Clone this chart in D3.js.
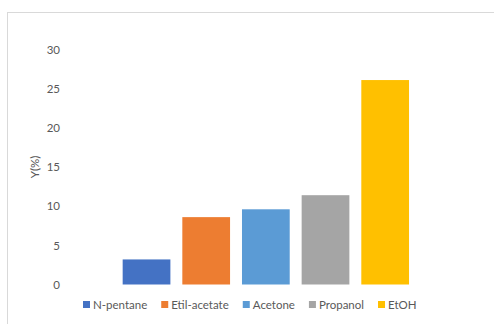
<!DOCTYPE html>
<html>
<head>
<meta charset="utf-8">
<script src="https://cdn.jsdelivr.net/npm/d3@7"></script>
<style>
  html, body { margin: 0; padding: 0; background: #fff; }
  svg { display: block; font-family: Lato, "Open Sans", sans-serif; }
</style>
</head>
<body>
<svg id="chart" width="494" height="324"></svg>
<script>
// Solvent yields (%)
const solvents = ["N-pentane", "Etil-acetate", "Acetone", "Propanol", "EtOH"];
const yields = [3.2, 8.6, 9.6, 11.4, 26.1];
const colors = ["#4472C4", "#ED7D31", "#5B9BD5", "#A5A5A5", "#FFC000"];
const yTicks = [0, 5, 10, 15, 20, 25, 30];
const yLabel = "Y(%)";

const svg = d3.select("#chart");
const textColor = "#595959";

// chart area frame
svg.append("rect")
  .attr("x", 7.5).attr("y", 12.5)
  .attr("width", 520).attr("height", 340)
  .attr("fill", "#fff")
  .attr("stroke", "#D9D9D9").attr("stroke-width", 1);

const x = d3.scaleBand()
  .domain(solvents)
  .range([116.7, 415])
  .paddingInner(0.2)
  .paddingOuter(0.1);

const y = d3.scaleLinear()
  .domain([0, 30])
  .range([284.5, 49.5]);

// y axis: labels only, no line or ticks
const yAxis = d3.axisLeft(y).tickValues(yTicks).tickSize(0).tickPadding(0);
const gy = svg.append("g")
  .attr("transform", "translate(60,0)")
  .call(yAxis);
gy.select(".domain").remove();
gy.selectAll("text")
  .attr("fill", textColor)
  .attr("font-size", 11.5)
  .attr("font-family", "Lato, sans-serif");

// axis title
svg.append("text")
  .attr("transform", `translate(39,${(y(0) + y(30)) / 2}) rotate(-90)`)
  .attr("text-anchor", "middle")
  .attr("fill", textColor)
  .attr("font-size", 11.5)
  .text(yLabel);

// bars
svg.append("g")
  .selectAll("rect")
  .data(solvents)
  .join("rect")
  .attr("x", d => x(d))
  .attr("width", x.bandwidth())
  .attr("y", (d, i) => y(yields[i]))
  .attr("height", (d, i) => y(0) - y(yields[i]))
  .attr("fill", (d, i) => colors[i]);

// legend
const legend = svg.append("g").attr("transform", "translate(0,304.5)");
let cx = 83;
solvents.forEach((name, i) => {
  const item = legend.append("g").attr("transform", `translate(${cx},0)`);
  item.append("rect")
    .attr("x", 0).attr("y", -3.5)
    .attr("width", 7).attr("height", 7)
    .attr("fill", colors[i]);
  const t = item.append("text")
    .attr("x", 10).attr("y", 0)
    .attr("dy", "0.35em")
    .attr("fill", textColor)
    .attr("font-size", 11.5)
    .text(name);
  cx += 10 + t.node().getComputedTextLength() + 14;
});
</script>
</body>
</html>
